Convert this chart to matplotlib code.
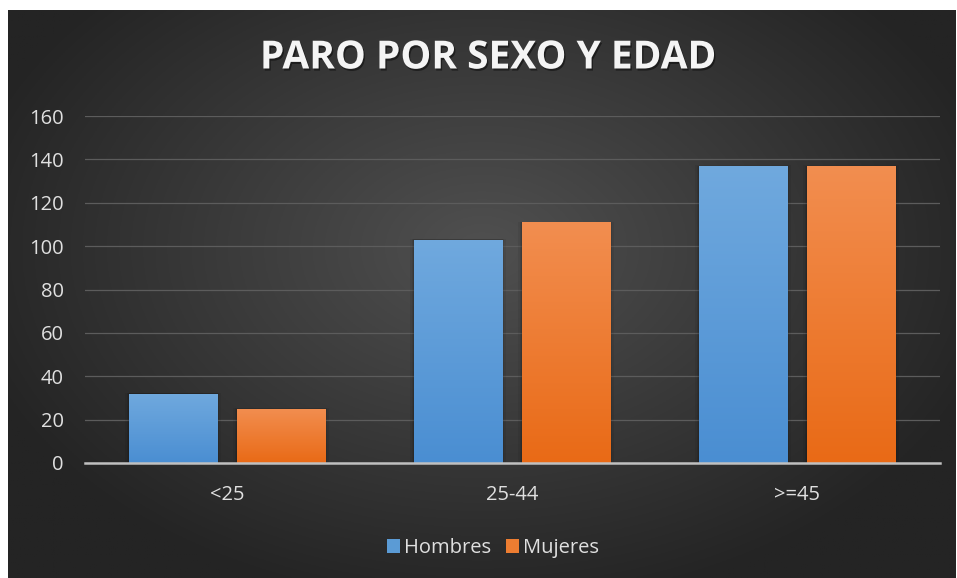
import numpy as np
import matplotlib
matplotlib.use("Agg")
import matplotlib.pyplot as plt
from matplotlib.colors import LinearSegmentedColormap
from matplotlib.patches import Patch
import matplotlib.patheffects as pe

categories = ["<25", "25-44", ">=45"]
hombres = [32, 103, 137]
mujeres = [25, 111, 137]
series_names = ["Hombres", "Mujeres"]
y_ticks = [0, 20, 40, 60, 80, 100, 120, 140, 160]

plt.rcParams["font.family"] = ["Open Sans", "DejaVu Sans"]

W, H = 957, 578
fig = plt.figure(figsize=(W / 100, H / 100), dpi=100)
fig.patch.set_facecolor("white")

# dark radial background panel
bg = fig.add_axes([8 / W, 0, (W - 9) / W, (H - 10) / H])
bg.set_axis_off()
yy, xx = np.mgrid[0:1:300j, 0:1:500j]
r = np.sqrt(((xx - 0.5) / 0.75) ** 2 + ((yy - 0.42) / 0.85) ** 2)
r = np.clip(r / 0.75, 0, 1)
inner = np.array([80, 80, 80]) / 255
outer = np.array([36, 36, 36]) / 255
img = inner[None, None, :] * (1 - r[..., None]) + outer[None, None, :] * r[..., None]
bg.imshow(img, aspect="auto", extent=[0, 1, 0, 1], origin="upper")
bg.set_xlim(0, 1)
bg.set_ylim(0, 1)

# main plotting axes
x0, x1 = 84.5, 939.5
y0, y1 = 463, 116
ax = fig.add_axes([x0 / W, (H - y0) / H, (x1 - x0) / W, (y0 - y1) / H])
ax.patch.set_alpha(0)

x = np.arange(len(categories))
bw = 0.309
off = 0.189

blue_cmap = LinearSegmentedColormap.from_list("b", ["#4a8ed2", "#70a9de"])
orange_cmap = LinearSegmentedColormap.from_list("o", ["#e96a16", "#f28e50"])

grad = np.linspace(0, 1, 256).reshape(-1, 1)
for vals, xs, cmap, name in [(hombres, x - off, blue_cmap, series_names[0]),
                             (mujeres, x + off, orange_cmap, series_names[1])]:
    bars = ax.bar(xs, vals, width=bw, color=cmap(0.5), zorder=3, label=name,
                  linewidth=0)
    for b in bars:
        bx, by = b.get_x(), b.get_y()
        bwid, bh = b.get_width(), b.get_height()
        # soft shadow around each bar
        for k, a in [(0.014, 0.06), (0.008, 0.08), (0.004, 0.10)]:
            ax.add_patch(plt.Rectangle((bx - k, by), bwid + 2 * k, bh + k * 20,
                                       facecolor="black", alpha=a, zorder=2, linewidth=0))
        im = ax.imshow(grad, cmap=cmap, aspect="auto", origin="lower",
                       extent=[bx, bx + bwid, by, by + bh], zorder=4)
        im.set_clip_path(b)
ax.set_xlim(-0.5, len(categories) - 0.5)
ax.set_ylim(0, 160)

ax.set_yticks(y_ticks)
ax.yaxis.grid(True, color="#5c5c5c", linewidth=0.9, zorder=1)
ax.set_axisbelow(True)
ax.set_xticks(x)
ax.set_xticklabels(categories)
for s in ["top", "right", "left"]:
    ax.spines[s].set_visible(False)
ax.spines["bottom"].set_color("#c0c0c0")
ax.spines["bottom"].set_linewidth(1.8)
ax.spines["bottom"].set_zorder(5)
ax.tick_params(axis="both", length=0, colors="#e0e0e0", labelsize=14.5)
ax.tick_params(axis="y", pad=15)
ax.tick_params(axis="x", pad=16)

fig.text(488 / W, 1 - 58 / H, "PARO POR SEXO Y EDAD", ha="center", va="center",
         color="#f4f4f4", fontsize=28, fontweight="bold",
         path_effects=[pe.withSimplePatchShadow(offset=(1, -1.5), shadow_rgbFace="black", alpha=0.45)])

handles = [Patch(facecolor="#5b9bd5"), Patch(facecolor="#ed7d31")]
fig.legend(handles, series_names, loc="center", bbox_to_anchor=(493 / W, 1 - 548 / H),
           ncol=2, frameon=False, fontsize=14.5, handlelength=0.65, handleheight=0.65,
           handletextpad=0.2, columnspacing=0.7, labelcolor="#e0e0e0")

fig.savefig("out.png", dpi=100)
